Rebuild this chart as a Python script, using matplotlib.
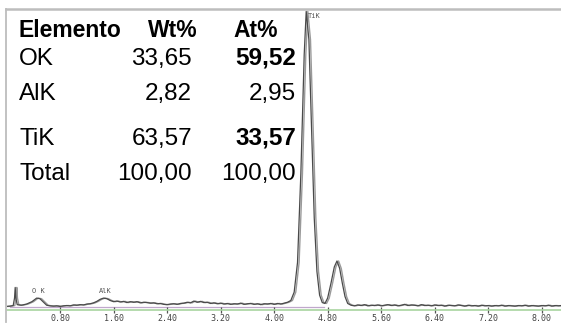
import matplotlib
matplotlib.use("Agg")
import matplotlib.pyplot as plt
from matplotlib.lines import Line2D
import matplotlib.transforms as mtransforms

# ---- data ----
energy_kev = [0.00, 0.05, 0.10, 0.12, 0.13, 0.14, 0.16, 0.22, 0.30, 0.38, 0.45, 0.50, 0.56,
              0.60, 0.65, 0.70, 0.75, 0.80, 0.85, 0.90, 0.95, 1.00, 1.05, 1.10, 1.15, 1.20,
              1.25, 1.30, 1.35, 1.40, 1.45, 1.50, 1.55, 1.60, 1.65, 1.70, 1.75, 1.80, 1.85,
              1.90, 1.95, 2.00, 2.05, 2.10, 2.15, 2.20, 2.25, 2.30, 2.35, 2.40, 2.45, 2.50,
              2.55, 2.60, 2.65, 2.70, 2.75, 2.80, 2.85, 2.90, 2.95, 3.00, 3.05, 3.10, 3.15,
              3.20, 3.25, 3.30, 3.35, 3.40, 3.45, 3.50, 3.55, 3.60, 3.65, 3.70, 3.75, 3.80,
              3.85, 3.90, 3.95, 4.00, 4.05, 4.10, 4.15, 4.20, 4.25,
              4.30, 4.35, 4.40, 4.45, 4.48, 4.52, 4.56, 4.60, 4.64, 4.68, 4.72, 4.76, 4.80,
              4.85, 4.90, 4.94, 4.98, 5.02, 5.06, 5.10,
              5.15, 5.20, 5.25, 5.30, 5.35, 5.40, 5.45, 5.50, 5.55, 5.60, 5.65, 5.70, 5.75,
              5.80, 5.85, 5.90, 5.95, 6.00, 6.05, 6.10, 6.15, 6.20, 6.25, 6.30, 6.35, 6.40,
              6.45, 6.50, 6.55, 6.60, 6.65, 6.70, 6.75, 6.80, 6.85, 6.90, 6.95, 7.00, 7.05,
              7.10, 7.15, 7.20, 7.25, 7.30, 7.35, 7.40, 7.45, 7.50, 7.55, 7.60, 7.65, 7.70,
              7.75, 7.80, 7.85, 7.90, 7.95, 8.00, 8.05, 8.10, 8.15, 8.20, 8.25, 8.29]
counts = [0.2, 0.3, 0.5, 3.0, 6.6, 3.0, 0.8, 0.6, 1.0, 1.8, 3.0, 2.8, 1.5,
          0.6, 0.4, 0.3, 0.4, 0.2, 0.4, 0.5, 0.4, 0.7, 0.6, 0.8, 0.7, 1.0,
          1.1, 1.4, 1.9, 2.6, 3.0, 2.8, 2.2, 1.8, 2.0, 1.7, 1.9, 1.5, 1.8,
          1.6, 1.8, 1.4, 1.6, 1.5, 1.3, 1.4, 1.1, 1.2, 0.9, 0.8, 1.0, 1.1,
          0.9, 1.2, 1.3, 1.6, 1.4, 2.0, 1.6, 1.9, 1.5, 1.6, 1.2, 1.4, 1.1,
          1.3, 1.0, 1.2, 0.9, 1.1, 1.0, 1.3, 0.9, 1.1, 1.2, 0.9, 1.1, 0.8,
          1.1, 1.0, 1.2, 0.9, 1.2, 1.0, 1.3, 1.6, 2.2,
          5.0, 15.0, 45.0, 85.0, 99.5, 90.0, 60.0, 30.0, 12.0, 4.0, 1.5, 1.2, 3.0,
          8.0, 13.5, 15.5, 13.0, 8.0, 3.5, 1.2,
          0.6, 0.4, 0.7, 0.5, 0.8, 0.4, 0.6, 0.5, 0.7, 0.4, 0.6, 0.8, 0.5,
          0.7, 0.4, 0.6, 0.9, 0.5, 0.7, 0.6, 0.4, 0.8, 0.5, 0.6, 0.4, 0.7,
          0.5, 0.6, 0.3, 0.6, 0.5, 0.4, 0.7, 0.5, 0.3, 0.6, 0.4, 0.5, 0.3,
          0.6, 0.4, 0.5, 0.3, 0.5, 0.4, 0.6, 0.3, 0.5, 0.4, 0.3, 0.5, 0.4,
          0.6, 0.3, 0.5, 0.4, 0.3, 0.5, 0.4, 0.6, 0.3, 0.5, 0.4, 0.5]
peak_labels = ['O K', 'AlK', 'TiK']
peak_label_x = [0.47, 1.47, 4.60]
peak_label_y = [5.4, 5.4, 98.0]

tick_values = [0.80, 1.60, 2.40, 3.20, 4.00, 4.80, 5.60, 6.40, 7.20, 8.00]
tick_labels = ['0.80', '1.60', '2.40', '3.20', '4.00', '4.80', '5.60', '6.40', '7.20', '8.00']

table_header = ['Elemento', 'Wt%', 'At%']
elements = ['OK', 'AlK', 'TiK', 'Total']
wt_pct = ['33,65', '2,82', '63,57', '100,00']
at_pct = ['59,52', '2,95', '33,57', '100,00']
at_bold = [True, False, True, False]

# ---- figure ----
W, H = 561, 324
fig = plt.figure(figsize=(W / 100, H / 100), dpi=100)
fig.patch.set_facecolor('white')

def fx(x):
    return x / W

def fy(y):
    return 1 - y / H

ax = fig.add_axes([fx(6.5), fy(310), fx(561) - fx(6.5), fy(9) - fy(310)])
ax.set_xlim(0, (561 - 6.5) / 66.9)
ax.set_ylim(-1.0, 100.3)

# background fit line
ax.plot([0.05, 4.75], [0, 0], color='#c0a8cc', lw=0.9, zorder=1)
# spectrum: light trace offset, dark trace
off = mtransforms.ScaledTranslation(1.6 / 100, 0, fig.dpi_scale_trans)
ax.plot(energy_kev, counts, color='#9a9a9a', lw=1.0, transform=ax.transData + off, zorder=2)
ax.plot(energy_kev, counts, color='#4a4a4a', lw=0.9, zorder=3)

for lab, x, y in zip(peak_labels, peak_label_x, peak_label_y):
    ax.text(x, y, lab, fontsize=5, family='DejaVu Sans Mono', color='#555555',
            ha='center', va='center')

for s in ['top', 'right', 'left']:
    ax.spines[s].set_visible(False)
ax.spines['bottom'].set_color('#a8d4a0')
ax.spines['bottom'].set_linewidth(1.2)
ax.set_yticks([])
ax.set_xticks(tick_values)
ax.set_xticklabels(tick_labels, family='DejaVu Sans Mono', fontsize=6, color='#444444')
ax.tick_params(axis='x', direction='inout', length=4, width=0.9, color='#555555', pad=1.2)
ax.patch.set_alpha(0)

# frame lines
fig.add_artist(Line2D([fx(6), fx(561)], [fy(8.5), fy(8.5)], color='#bdbdbd', lw=1.8))
fig.add_artist(Line2D([fx(6), fx(6)], [fy(8.5), fy(322)], color='#bdbdbd', lw=1.3))

# table
hdr_font = dict(family='Liberation Sans', fontweight='bold', fontsize=16.5, color='black')
fig.text(fx(18), fy(37), table_header[0], ha='left', va='baseline', **hdr_font)
fig.text(fx(198), fy(37), table_header[1], ha='right', va='baseline', **hdr_font)
fig.text(fx(256), fy(37), table_header[2], ha='center', va='baseline', **hdr_font)

row_base = [65, 100, 145, 180]
body = dict(family='Liberation Sans', fontsize=17.5, color='black')
for el, w, a, b, yb in zip(elements, wt_pct, at_pct, at_bold, row_base):
    fig.text(fx(19), fy(yb), el, ha='left', va='baseline', **body)
    fig.text(fx(192), fy(yb), w, ha='right', va='baseline', **body)
    fig.text(fx(296), fy(yb), a, ha='right', va='baseline',
             fontweight='bold' if b else 'normal', **body)

fig.savefig('out.png', dpi=100, facecolor='white')
